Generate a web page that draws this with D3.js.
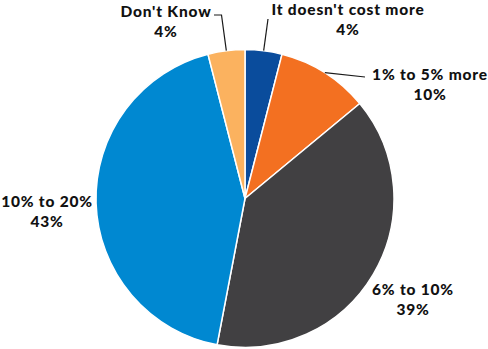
<!DOCTYPE html>
<html>
<head>
<meta charset="utf-8">
<script src="https://cdn.jsdelivr.net/npm/d3@7"></script>
<style>
  body { margin: 0; background: #fff; }
  svg text { font-family: Lato, "Open Sans", sans-serif; font-weight: 900; font-size: 15.5px; letter-spacing: 0.8px; fill: #111; }
</style>
</head>
<body>
<figure id="pie-chart" style="margin:0"></figure>
<script>
// chart values
const categories = ["It doesn't cost more", "1% to 5% more", "6% to 10%", "10% to 20%", "Don't Know"]
const shares = [4, 10, 39, 43, 4]
const colors = ["#0A4C9C", "#F37021", "#414042", "#0088D1", "#FBB25F"]

// where each label sits, plus leader elbows (null = no leader)
const labelLayout = [
  { x: 348, y: 15, leader: [[268, 19]] },
  { x: 430, y: 80, leader: [[365, 77]] },
  { x: 413, y: 295, leader: null },
  { x: 47, y: 207, leader: null },
  { x: 166, y: 17, leader: [[221.5, 15], [214, 15]] },
]

const width = 488
const height = 349
const cx = 245
const cy = 198.5
const radius = 149

const svg = d3.select("#pie-chart")
  .append("svg")
  .attr("width", width)
  .attr("height", height)

const data = categories.map((c, i) => ({ name: c, value: shares[i], color: colors[i], layout: labelLayout[i] }))

const pie = d3.pie().sort(null).value(d => d.value)
const arcs = pie(data)

const arc = d3.arc().innerRadius(0).outerRadius(radius)
const edgeArc = d3.arc().innerRadius(radius).outerRadius(radius)

const g = svg.append("g").attr("transform", `translate(${cx}, ${cy})`)

g.selectAll("path.slice")
  .data(arcs)
  .join("path")
  .attr("class", "slice")
  .attr("d", arc)
  .attr("fill", d => d.data.color)
  .attr("stroke", "#fff")
  .attr("stroke-width", 1.5)
  .attr("stroke-linejoin", "round")

// leader lines from the slice edge to the label
const line = d3.line()
svg.selectAll("path.leader")
  .data(arcs.filter(d => d.data.layout.leader))
  .join("path")
  .attr("class", "leader")
  .attr("fill", "none")
  .attr("stroke", "#1a1a1a")
  .attr("stroke-width", 1.2)
  .attr("d", d => {
    const [ex, ey] = edgeArc.centroid(d)
    return line([[cx + ex, cy + ey], ...d.data.layout.leader])
  })

const pctFmt = d => `${d}%`
const labels = svg.selectAll("text.label")
  .data(arcs)
  .join("text")
  .attr("class", "label")
  .attr("text-anchor", "middle")
  .attr("x", d => d.data.layout.x)
  .attr("y", d => d.data.layout.y)

labels.append("tspan")
  .attr("x", d => d.data.layout.x)
  .text(d => d.data.name)

labels.append("tspan")
  .attr("x", d => d.data.layout.x)
  .attr("dy", 20)
  .text(d => pctFmt(d.data.value))
</script>
</body>
</html>
